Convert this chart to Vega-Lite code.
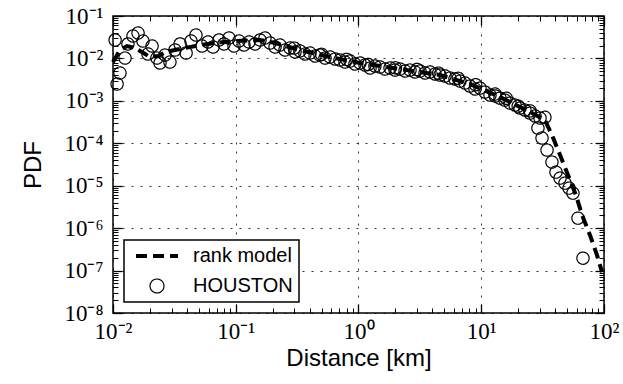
{
  "$schema": "https://vega.github.io/schema/vega-lite/v6.json",
  "width": 491,
  "height": 297,
  "autosize": {"type": "none"},
  "padding": {"left": 113, "top": 16, "right": 19, "bottom": 71},
  "background": "white",
  "config": {
    "view": {"stroke": "black", "strokeWidth": 1.5},
    "axis": {
      "domain": false,
      "tickColor": "black",
      "labelFont": "Liberation Serif",
      "labelFontSize": 23,
      "labelColor": "black",
      "titleFont": "Liberation Sans",
      "titleFontSize": 24,
      "titleFontWeight": "normal",
      "titleColor": "black",
      "labelFlush": false,
      "labelOverlap": false
    },
    "legend": {
      "orient": "bottom-left",
      "offset": 11,
      "padding": 6,
      "strokeColor": "black",
      "strokeWidth": 1.5,
      "fillColor": "white",
      "cornerRadius": 0,
      "labelFont": "Liberation Sans",
      "labelFontSize": 20,
      "labelColor": "black",
      "symbolSize": 196,
      "symbolStrokeColor": "black",
      "symbolOffset": 17,
      "labelOffset": 26,
      "rowPadding": 10
    }
  },
  "datasets": {
    "houston": [
      {"distance": 0.0104, "pdf": 0.0272, "series": "HOUSTON"},
      {"distance": 0.0108, "pdf": 0.00249, "series": "HOUSTON"},
      {"distance": 0.0114, "pdf": 0.00453, "series": "HOUSTON"},
      {"distance": 0.01253, "pdf": 0.0102, "series": "HOUSTON"},
      {"distance": 0.01324, "pdf": 0.0219, "series": "HOUSTON"},
      {"distance": 0.01455, "pdf": 0.0337, "series": "HOUSTON"},
      {"distance": 0.016, "pdf": 0.0397, "series": "HOUSTON"},
      {"distance": 0.01754, "pdf": 0.0257, "series": "HOUSTON"},
      {"distance": 0.01928, "pdf": 0.0127, "series": "HOUSTON"},
      {"distance": 0.0208, "pdf": 0.0196, "series": "HOUSTON"},
      {"distance": 0.0228, "pdf": 0.0102, "series": "HOUSTON"},
      {"distance": 0.02415, "pdf": 0.0078, "series": "HOUSTON"},
      {"distance": 0.02655, "pdf": 0.012, "series": "HOUSTON"},
      {"distance": 0.0291, "pdf": 0.00822, "series": "HOUSTON"},
      {"distance": 0.032, "pdf": 0.0158, "series": "HOUSTON"},
      {"distance": 0.0352, "pdf": 0.0219, "series": "HOUSTON"},
      {"distance": 0.0394, "pdf": 0.0134, "series": "HOUSTON"},
      {"distance": 0.0432, "pdf": 0.0257, "series": "HOUSTON"},
      {"distance": 0.0474, "pdf": 0.0356, "series": "HOUSTON"},
      {"distance": 0.0531, "pdf": 0.0196, "series": "HOUSTON"},
      {"distance": 0.0594, "pdf": 0.0244, "series": "HOUSTON"},
      {"distance": 0.0653, "pdf": 0.0186, "series": "HOUSTON"},
      {"distance": 0.0731, "pdf": 0.0272, "series": "HOUSTON"},
      {"distance": 0.0802, "pdf": 0.0219, "series": "HOUSTON"},
      {"distance": 0.0881, "pdf": 0.0303, "series": "HOUSTON"},
      {"distance": 0.0968, "pdf": 0.0196, "series": "HOUSTON"},
      {"distance": 0.1062, "pdf": 0.0257, "series": "HOUSTON"},
      {"distance": 0.1167, "pdf": 0.0207, "series": "HOUSTON"},
      {"distance": 0.1282, "pdf": 0.0244, "series": "HOUSTON"},
      {"distance": 0.1435, "pdf": 0.0219, "series": "HOUSTON"},
      {"distance": 0.1578, "pdf": 0.0272, "series": "HOUSTON"},
      {"distance": 0.173, "pdf": 0.0303, "series": "HOUSTON"},
      {"distance": 0.1901, "pdf": 0.0231, "series": "HOUSTON"},
      {"distance": 0.2089, "pdf": 0.0186, "series": "HOUSTON"},
      {"distance": 0.2291, "pdf": 0.0207, "series": "HOUSTON"},
      {"distance": 0.2518, "pdf": 0.0158, "series": "HOUSTON"},
      {"distance": 0.2767, "pdf": 0.0176, "series": "HOUSTON"},
      {"distance": 0.3, "pdf": 0.0175, "series": "HOUSTON"},
      {"distance": 0.3041, "pdf": 0.0142, "series": "HOUSTON"},
      {"distance": 0.3334, "pdf": 0.015, "series": "HOUSTON"},
      {"distance": 0.3664, "pdf": 0.0127, "series": "HOUSTON"},
      {"distance": 0.4027, "pdf": 0.0134, "series": "HOUSTON"},
      {"distance": 0.4426, "pdf": 0.0114, "series": "HOUSTON"},
      {"distance": 0.4853, "pdf": 0.012, "series": "HOUSTON"},
      {"distance": 0.5, "pdf": 0.0125, "series": "HOUSTON"},
      {"distance": 0.5333, "pdf": 0.0102, "series": "HOUSTON"},
      {"distance": 0.5861, "pdf": 0.0108, "series": "HOUSTON"},
      {"distance": 0.6442, "pdf": 0.00968, "series": "HOUSTON"},
      {"distance": 0.7063, "pdf": 0.00916, "series": "HOUSTON"},
      {"distance": 0.7762, "pdf": 0.00822, "series": "HOUSTON"},
      {"distance": 0.8, "pdf": 0.0095, "series": "HOUSTON"},
      {"distance": 0.8531, "pdf": 0.00869, "series": "HOUSTON"},
      {"distance": 0.9354, "pdf": 0.00738, "series": "HOUSTON"},
      {"distance": 1.028, "pdf": 0.0078, "series": "HOUSTON"},
      {"distance": 1.13, "pdf": 0.00698, "series": "HOUSTON"},
      {"distance": 1.2, "pdf": 0.0072, "series": "HOUSTON"},
      {"distance": 1.242, "pdf": 0.00594, "series": "HOUSTON"},
      {"distance": 1.361, "pdf": 0.00662, "series": "HOUSTON"},
      {"distance": 1.496, "pdf": 0.00627, "series": "HOUSTON"},
      {"distance": 1.644, "pdf": 0.00562, "series": "HOUSTON"},
      {"distance": 1.807, "pdf": 0.00594, "series": "HOUSTON"},
      {"distance": 1.982, "pdf": 0.00532, "series": "HOUSTON"},
      {"distance": 2.0, "pdf": 0.006, "series": "HOUSTON"},
      {"distance": 2.178, "pdf": 0.00562, "series": "HOUSTON"},
      {"distance": 2.393, "pdf": 0.00505, "series": "HOUSTON"},
      {"distance": 2.63, "pdf": 0.00532, "series": "HOUSTON"},
      {"distance": 2.884, "pdf": 0.00478, "series": "HOUSTON"},
      {"distance": 3.0, "pdf": 0.0055, "series": "HOUSTON"},
      {"distance": 3.17, "pdf": 0.00505, "series": "HOUSTON"},
      {"distance": 3.483, "pdf": 0.00453, "series": "HOUSTON"},
      {"distance": 3.819, "pdf": 0.00478, "series": "HOUSTON"},
      {"distance": 4.198, "pdf": 0.00429, "series": "HOUSTON"},
      {"distance": 4.5, "pdf": 0.0045, "series": "HOUSTON"},
      {"distance": 4.613, "pdf": 0.00406, "series": "HOUSTON"},
      {"distance": 5.07, "pdf": 0.00385, "series": "HOUSTON"},
      {"distance": 5.559, "pdf": 0.00345, "series": "HOUSTON"},
      {"distance": 6.109, "pdf": 0.00327, "series": "HOUSTON"},
      {"distance": 6.5, "pdf": 0.0034, "series": "HOUSTON"},
      {"distance": 6.714, "pdf": 0.00293, "series": "HOUSTON"},
      {"distance": 7.379, "pdf": 0.00263, "series": "HOUSTON"},
      {"distance": 8.091, "pdf": 0.00223, "series": "HOUSTON"},
      {"distance": 8.892, "pdf": 0.0019, "series": "HOUSTON"},
      {"distance": 9.0, "pdf": 0.0024, "series": "HOUSTON"},
      {"distance": 9.772, "pdf": 0.002, "series": "HOUSTON"},
      {"distance": 10.74, "pdf": 0.00161, "series": "HOUSTON"},
      {"distance": 11.78, "pdf": 0.00137, "series": "HOUSTON"},
      {"distance": 12.94, "pdf": 0.00145, "series": "HOUSTON"},
      {"distance": 13.0, "pdf": 0.0013, "series": "HOUSTON"},
      {"distance": 14.22, "pdf": 0.00116, "series": "HOUSTON"},
      {"distance": 15.6, "pdf": 0.00104, "series": "HOUSTON"},
      {"distance": 16.0, "pdf": 0.00115, "series": "HOUSTON"},
      {"distance": 17.14, "pdf": 0.000887, "series": "HOUSTON"},
      {"distance": 18.84, "pdf": 0.000796, "series": "HOUSTON"},
      {"distance": 20.0, "pdf": 0.00075, "series": "HOUSTON"},
      {"distance": 20.7, "pdf": 0.000676, "series": "HOUSTON"},
      {"distance": 22.7, "pdf": 0.000607, "series": "HOUSTON"},
      {"distance": 24.95, "pdf": 0.000515, "series": "HOUSTON"},
      {"distance": 25.0, "pdf": 0.00058, "series": "HOUSTON"},
      {"distance": 27.42, "pdf": 0.000439, "series": "HOUSTON"},
      {"distance": 30.13, "pdf": 0.000393, "series": "HOUSTON"},
      {"distance": 33.0, "pdf": 0.00041, "series": "HOUSTON"},
      {"distance": 28.97, "pdf": 0.000228, "series": "HOUSTON"},
      {"distance": 31.26, "pdf": 0.000133, "series": "HOUSTON"},
      {"distance": 34.36, "pdf": 0.0000692, "series": "HOUSTON"},
      {"distance": 37.67, "pdf": 0.0000361, "series": "HOUSTON"},
      {"distance": 40.64, "pdf": 0.0000209, "series": "HOUSTON"},
      {"distance": 43.85, "pdf": 0.0000151, "series": "HOUSTON"},
      {"distance": 48.08, "pdf": 0.0000115, "series": "HOUSTON"},
      {"distance": 51.88, "pdf": 0.00000877, "series": "HOUSTON"},
      {"distance": 55.85, "pdf": 0.00000668, "series": "HOUSTON"},
      {"distance": 61.38, "pdf": 0.00000172, "series": "HOUSTON"},
      {"distance": 67.45, "pdf": 0.000000196, "series": "HOUSTON"}
    ],
    "model": [
      {"distance": 0.01, "pdf": 0.00822, "series": "rank model"},
      {"distance": 0.0114, "pdf": 0.0158, "series": "rank model"},
      {"distance": 0.013, "pdf": 0.0196, "series": "rank model"},
      {"distance": 0.0151, "pdf": 0.0176, "series": "rank model"},
      {"distance": 0.0172, "pdf": 0.0142, "series": "rank model"},
      {"distance": 0.02, "pdf": 0.0108, "series": "rank model"},
      {"distance": 0.0233, "pdf": 0.0114, "series": "rank model"},
      {"distance": 0.027, "pdf": 0.0142, "series": "rank model"},
      {"distance": 0.032, "pdf": 0.0158, "series": "rank model"},
      {"distance": 0.0386, "pdf": 0.0176, "series": "rank model"},
      {"distance": 0.0512, "pdf": 0.0207, "series": "rank model"},
      {"distance": 0.0678, "pdf": 0.0231, "series": "rank model"},
      {"distance": 0.1005, "pdf": 0.0257, "series": "rank model"},
      {"distance": 0.1578, "pdf": 0.0272, "series": "rank model"},
      {"distance": 0.2089, "pdf": 0.0231, "series": "rank model"},
      {"distance": 0.3334, "pdf": 0.0158, "series": "rank model"},
      {"distance": 0.5861, "pdf": 0.0108, "series": "rank model"},
      {"distance": 1.028, "pdf": 0.0078, "series": "rank model"},
      {"distance": 2.178, "pdf": 0.00562, "series": "rank model"},
      {"distance": 4.613, "pdf": 0.00406, "series": "rank model"},
      {"distance": 8.091, "pdf": 0.00249, "series": "rank model"},
      {"distance": 14.22, "pdf": 0.00123, "series": "rank model"},
      {"distance": 24.95, "pdf": 0.000545, "series": "rank model"},
      {"distance": 33.04, "pdf": 0.000352, "series": "rank model"},
      {"distance": 37.67, "pdf": 0.000156, "series": "rank model"},
      {"distance": 43.85, "pdf": 0.0000527, "series": "rank model"},
      {"distance": 50.93, "pdf": 0.0000178, "series": "rank model"},
      {"distance": 59.16, "pdf": 0.000006, "series": "rank model"},
      {"distance": 66.22, "pdf": 0.00000203, "series": "rank model"},
      {"distance": 76.91, "pdf": 0.000000684, "series": "rank model"},
      {"distance": 87.7, "pdf": 0.000000231, "series": "rank model"},
      {"distance": 96.4, "pdf": 0.0000000916, "series": "rank model"}
    ]
  },
  "layer": [
    {
      "data": {"name": "houston"},
      "mark": {"type": "point", "filled": false, "size": 150, "stroke": "black", "opacity": 1},
      "encoding": {
        "x": {
          "field": "distance", "type": "quantitative",
          "scale": {"type": "log", "domain": [0.01, 100], "nice": false},
          "axis": {
            "orient": "bottom", "title": "Distance [km]",
            "values": [0.01, 0.1, 1, 10, 100],
            "labelExpr": "(round(log(datum.value)/LN10) < 0 ? '10⁻' : '10') + ['⁰','¹','²','³','⁴','⁵','⁶','⁷','⁸','⁹'][abs(round(log(datum.value)/LN10))]",
            "tickSize": -9, "tickWidth": 1.3, "labelPadding": 16,
            "grid": true, "gridDash": [2, 7], "gridColor": "black", "gridWidth": 1, "gridOpacity": 0.8,
            "titlePadding": 3
          }
        },
        "y": {
          "field": "pdf", "type": "quantitative",
          "scale": {"type": "log", "domain": [1e-8, 0.1], "nice": false},
          "axis": {
            "orient": "left", "title": "PDF",
            "values": [1e-8, 1e-7, 1e-6, 1e-5, 1e-4, 1e-3, 1e-2, 1e-1],
            "labelExpr": "(round(log(datum.value)/LN10) < 0 ? '10⁻' : '10') + ['⁰','¹','²','³','⁴','⁵','⁶','⁷','⁸','⁹'][abs(round(log(datum.value)/LN10))]",
            "tickSize": -9, "tickWidth": 1.3, "labelPadding": 19,
            "grid": true, "gridDash": [2, 7], "gridColor": "black", "gridWidth": 1, "gridOpacity": 0.8,
            "titlePadding": 18
          }
        },
        "shape": {
          "field": "series", "type": "nominal",
          "scale": {"domain": ["rank model", "HOUSTON"], "range": ["M-3,0H3", "circle"]},
          "legend": {"title": null}
        },
        "strokeDash": {
          "field": "series", "type": "nominal",
          "scale": {"domain": ["rank model", "HOUSTON"], "range": [[11, 6], [1, 0]]},
          "legend": {"title": null}
        },
        "strokeWidth": {
          "field": "series", "type": "ordinal",
          "scale": {"domain": ["rank model", "HOUSTON"], "range": [4, 1.2]},
          "legend": {"title": null}
        }
      }
    },
    {
      "data": {"name": "model"},
      "mark": {"type": "line", "stroke": "black"},
      "encoding": {
        "x": {
          "field": "distance", "type": "quantitative",
          "scale": {"type": "log", "domain": [0.01, 100], "nice": false},
          "axis": {"orient": "top", "title": null, "values": [0.01, 0.1, 1, 10, 100], "labels": false, "grid": false, "tickSize": -9, "tickWidth": 1.3}
        },
        "y": {
          "field": "pdf", "type": "quantitative",
          "scale": {"type": "log", "domain": [1e-8, 0.1], "nice": false},
          "axis": {"orient": "right", "title": null, "values": [1e-8, 1e-7, 1e-6, 1e-5, 1e-4, 1e-3, 1e-2, 1e-1], "labels": false, "grid": false, "tickSize": -9, "tickWidth": 1.3}
        },
        "strokeDash": {
          "field": "series", "type": "nominal",
          "scale": {"domain": ["rank model", "HOUSTON"], "range": [[11, 6], [1, 0]]},
          "legend": {"title": null}
        },
        "strokeWidth": {
          "field": "series", "type": "ordinal",
          "scale": {"domain": ["rank model", "HOUSTON"], "range": [4, 1.2]},
          "legend": {"title": null}
        }
      }
    },
    {
      "data": {"name": "model"},
      "mark": {"type": "point", "opacity": 0},
      "encoding": {
        "x": {
          "field": "distance", "type": "quantitative",
          "scale": {"type": "log", "domain": [0.01, 100], "nice": false},
          "axis": {"orient": "bottom", "title": null, "labels": false, "grid": false, "tickSize": -5, "tickWidth": 1,
            "values": [0.02, 0.03, 0.04, 0.05, 0.06, 0.07, 0.08, 0.09, 0.2, 0.3, 0.4, 0.5, 0.6, 0.7, 0.8, 0.9, 2, 3, 4, 5, 6, 7, 8, 9, 20, 30, 40, 50, 60, 70, 80, 90]}
        },
        "y": {
          "field": "pdf", "type": "quantitative",
          "scale": {"type": "log", "domain": [1e-8, 0.1], "nice": false},
          "axis": {"orient": "left", "title": null, "labels": false, "grid": false, "tickSize": -5, "tickWidth": 1,
            "values": [2e-8, 3e-8, 4e-8, 5e-8, 6e-8, 7e-8, 8e-8, 9e-8, 2e-7, 3e-7, 4e-7, 5e-7, 6e-7, 7e-7, 8e-7, 9e-7, 2e-6, 3e-6, 4e-6, 5e-6, 6e-6, 7e-6, 8e-6, 9e-6, 2e-5, 3e-5, 4e-5, 5e-5, 6e-5, 7e-5, 8e-5, 9e-5, 2e-4, 3e-4, 4e-4, 5e-4, 6e-4, 7e-4, 8e-4, 9e-4, 0.002, 0.003, 0.004, 0.005, 0.006, 0.007, 0.008, 0.009, 0.02, 0.03, 0.04, 0.05, 0.06, 0.07, 0.08, 0.09]}
        }
      }
    },
    {
      "data": {"name": "model"},
      "mark": {"type": "point", "opacity": 0},
      "encoding": {
        "x": {
          "field": "distance", "type": "quantitative",
          "scale": {"type": "log", "domain": [0.01, 100], "nice": false},
          "axis": {"orient": "top", "title": null, "labels": false, "grid": false, "tickSize": -5, "tickWidth": 1,
            "values": [0.02, 0.03, 0.04, 0.05, 0.06, 0.07, 0.08, 0.09, 0.2, 0.3, 0.4, 0.5, 0.6, 0.7, 0.8, 0.9, 2, 3, 4, 5, 6, 7, 8, 9, 20, 30, 40, 50, 60, 70, 80, 90]}
        },
        "y": {
          "field": "pdf", "type": "quantitative",
          "scale": {"type": "log", "domain": [1e-8, 0.1], "nice": false},
          "axis": {"orient": "right", "title": null, "labels": false, "grid": false, "tickSize": -5, "tickWidth": 1,
            "values": [2e-8, 3e-8, 4e-8, 5e-8, 6e-8, 7e-8, 8e-8, 9e-8, 2e-7, 3e-7, 4e-7, 5e-7, 6e-7, 7e-7, 8e-7, 9e-7, 2e-6, 3e-6, 4e-6, 5e-6, 6e-6, 7e-6, 8e-6, 9e-6, 2e-5, 3e-5, 4e-5, 5e-5, 6e-5, 7e-5, 8e-5, 9e-5, 2e-4, 3e-4, 4e-4, 5e-4, 6e-4, 7e-4, 8e-4, 9e-4, 0.002, 0.003, 0.004, 0.005, 0.006, 0.007, 0.008, 0.009, 0.02, 0.03, 0.04, 0.05, 0.06, 0.07, 0.08, 0.09]}
        }
      }
    }
  ],
  "resolve": {"axis": {"x": "independent", "y": "independent"}}
}
